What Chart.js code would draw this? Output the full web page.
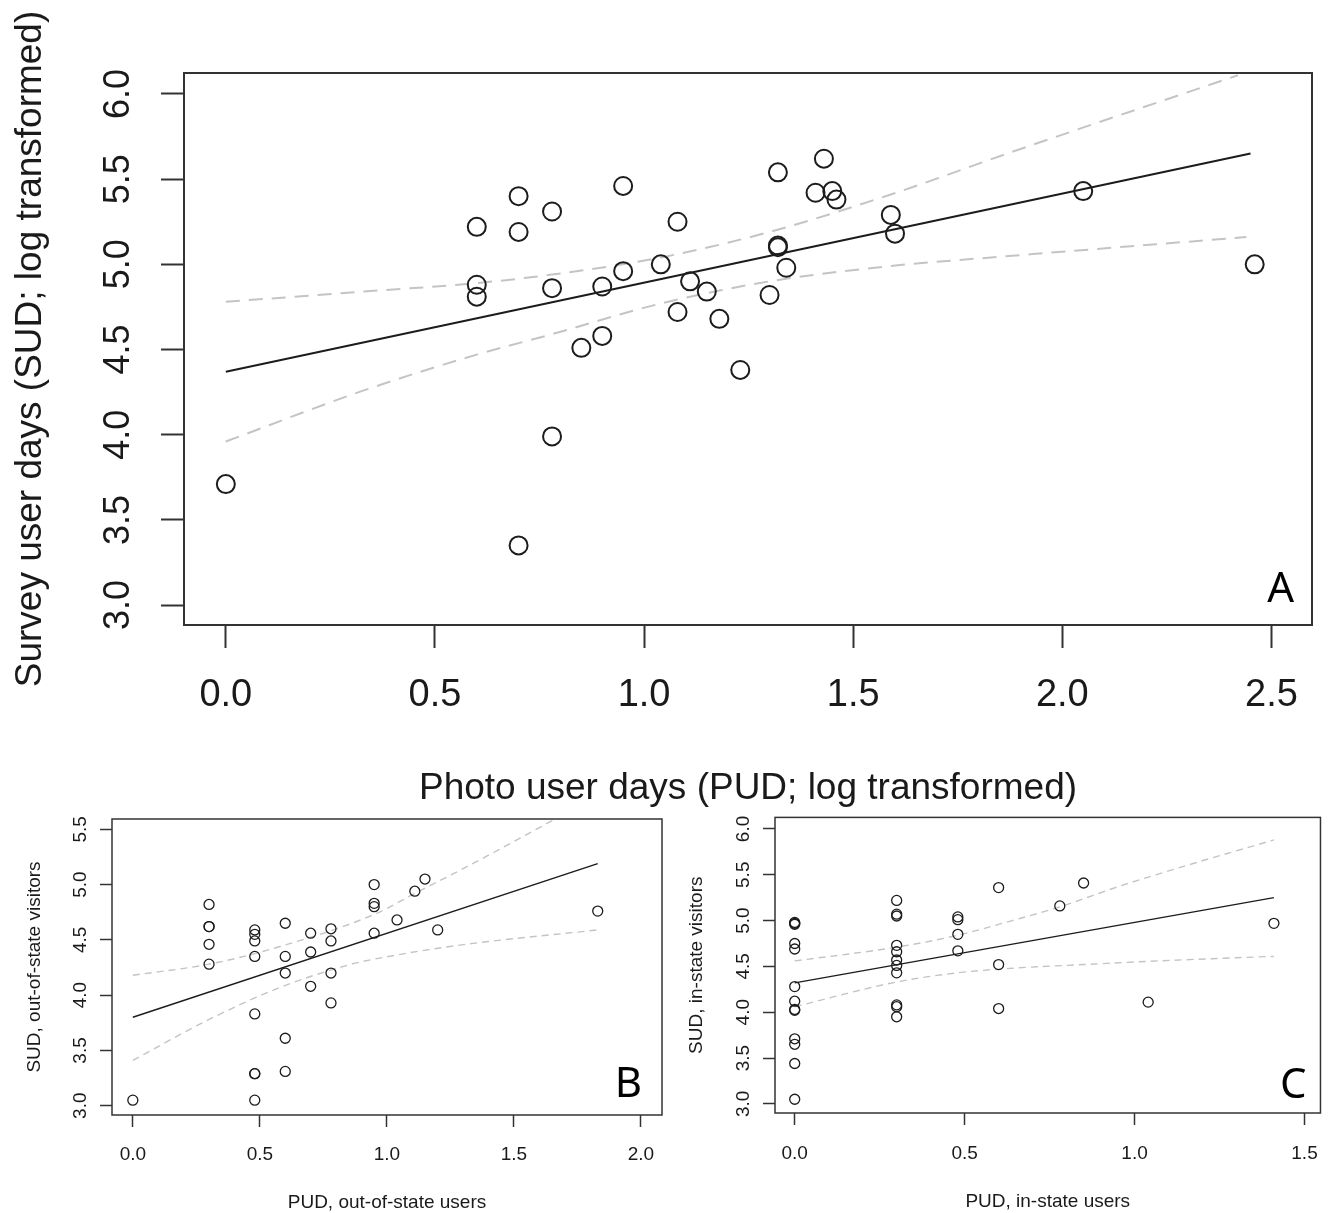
<!DOCTYPE html>
<html>
<head>
<meta charset="utf-8">
<title>SUD vs PUD</title>
<script src="https://cdn.jsdelivr.net/npm/chart.js@4.4.1/dist/chart.umd.min.js"></script>
<style>
  html, body { margin: 0; padding: 0; background: #fff; }
  body { position: relative; width: 1335px; height: 1213px; overflow: hidden; }
  canvas { position: absolute; }
</style>
</head>
<body>
<canvas id="chartA" width="1335" height="820" style="left:0;top:0"></canvas>
<canvas id="chartB" width="680" height="413" style="left:0;top:800px"></canvas>
<canvas id="chartC" width="655" height="413" style="left:680px;top:800px"></canvas>
<script>
// Panel A: all users
var pudA = [0.00, 0.60, 0.60, 0.60, 0.70, 0.70, 0.70, 0.78, 0.78, 0.78, 0.85, 0.90, 0.90, 0.95, 0.95, 1.04, 1.08, 1.08,
            1.11, 1.15, 1.18, 1.23, 1.30, 1.32, 1.32, 1.32, 1.34, 1.41, 1.43, 1.45, 1.46, 1.59, 1.60, 2.05, 2.46];
var sudA = [3.71, 5.22, 4.88, 4.81, 5.40, 5.19, 3.35, 5.31, 4.86, 3.99, 4.51, 4.87, 4.58, 5.46, 4.96, 5.00, 5.25, 4.72,
            4.90, 4.84, 4.68, 4.38, 4.82, 5.54, 5.11, 5.10, 4.98, 5.42, 5.62, 5.43, 5.38, 5.29, 5.18, 5.43, 5.00];
var fitXA = [0.00, 2.45];
var fitYA = [4.37, 5.65];
var upXA = [0.00, 0.33, 0.60, 0.78, 1.04, 1.30, 1.59, 1.88, 2.42];
var upYA = [4.78, 4.84, 4.89, 4.94, 5.04, 5.19, 5.41, 5.66, 6.11];
var loXA = [0.00, 0.33, 0.60, 0.78, 1.04, 1.30, 1.59, 1.88, 2.44];
var loYA = [3.96, 4.26, 4.47, 4.59, 4.77, 4.90, 4.99, 5.05, 5.16];
var xTicksA = [0.0, 0.5, 1.0, 1.5, 2.0, 2.5];
var yTicksA = [3.0, 3.5, 4.0, 4.5, 5.0, 5.5, 6.0];

// Panel B: out-of-state
var pudB = [0.00, 0.30, 0.30, 0.30, 0.30, 0.30, 0.48, 0.48, 0.48, 0.48, 0.48, 0.48, 0.48, 0.48,
            0.60, 0.60, 0.60, 0.60, 0.60, 0.70, 0.70, 0.70, 0.78, 0.78, 0.78, 0.78,
            0.95, 0.95, 0.95, 0.95, 1.04, 1.11, 1.15, 1.20, 1.83];
var sudB = [3.05, 4.82, 4.62, 4.62, 4.46, 4.28, 4.59, 4.55, 4.49, 4.35, 3.83, 3.29, 3.29, 3.05,
            4.65, 4.35, 4.20, 3.61, 3.31, 4.56, 4.39, 4.08, 4.60, 4.49, 4.20, 3.93,
            5.00, 4.83, 4.80, 4.56, 4.68, 4.94, 5.05, 4.59, 4.76];
var fitXB = [0.00, 1.83];
var fitYB = [3.80, 5.19];
var upXB = [0.00, 0.30, 0.58, 0.96, 1.11, 1.28, 1.42, 1.66];
var upYB = [4.18, 4.28, 4.44, 4.74, 4.92, 5.12, 5.29, 5.59];
var loXB = [0.00, 0.30, 0.58, 0.86, 0.96, 1.28, 1.83];
var loYB = [3.41, 3.78, 4.07, 4.28, 4.33, 4.45, 4.59];
var xTicksB = [0.0, 0.5, 1.0, 1.5, 2.0];
var yTicksB = [3.0, 3.5, 4.0, 4.5, 5.0, 5.5];

// Panel C: in-state
var pudC = [0.00, 0.00, 0.00, 0.00, 0.00, 0.00, 0.00, 0.00, 0.00, 0.00, 0.00, 0.00, 0.00,
            0.30, 0.30, 0.30, 0.30, 0.30, 0.30, 0.30, 0.30, 0.30, 0.30, 0.30,
            0.48, 0.48, 0.48, 0.48, 0.60, 0.60, 0.60, 0.78, 0.85, 1.04, 1.41];
var sudC = [4.98, 4.97, 4.96, 4.75, 4.69, 4.28, 4.12, 4.03, 4.02, 3.71, 3.65, 3.44, 3.05,
            5.22, 5.07, 5.05, 4.73, 4.66, 4.57, 4.51, 4.43, 4.08, 4.06, 3.95,
            5.04, 5.01, 4.85, 4.67, 5.36, 4.52, 4.04, 5.16, 5.41, 4.11, 4.97];
var fitXC = [0.00, 1.41];
var fitYC = [4.32, 5.25];
var upXC = [0.00, 0.30, 0.48, 0.64, 0.78, 0.96, 1.17, 1.41];
var upYC = [4.56, 4.71, 4.84, 5.00, 5.15, 5.38, 5.62, 5.88];
var loXC = [0.00, 0.30, 0.48, 0.64, 0.85, 1.07, 1.41];
var loYC = [4.06, 4.33, 4.43, 4.48, 4.52, 4.56, 4.61];
var xTicksC = [0.0, 0.5, 1.0, 1.5];
var yTicksC = [3.0, 3.5, 4.0, 4.5, 5.0, 5.5, 6.0];

var SANS = "'Liberation Sans', Arial, sans-serif";
var NARROW = "'Liberation Sans Narrow', 'Liberation Sans', Arial, sans-serif";

function pairs(xs, ys) {
    return xs.map(function(x, i) { return { x: x, y: ys[i] }; });
}

// box around the plot region + panel letter
var framePlugin = {
    id: 'frame',
    afterDraw: function(chart, args, opts) {
        var a = chart.chartArea;
        var ctx = chart.ctx;
        ctx.save();
        ctx.strokeStyle = '#333';
        ctx.lineWidth = opts.width;
        ctx.strokeRect(a.left, a.top, a.right - a.left, a.bottom - a.top);
        ctx.fillStyle = '#000';
        ctx.font = opts.font;
        ctx.textAlign = 'right';
        ctx.textBaseline = 'alphabetic';
        ctx.fillText(opts.letter, a.right - opts.dx, a.bottom - opts.dy);
        ctx.restore();
    }
};

function makePanel(id, p) {
    var canvas = document.getElementById(id);
    if (!canvas) return;

    var dashed = {
        showLine: true,
        pointRadius: 0,
        borderColor: '#c4c4c4',
        borderWidth: p.lineWidth,
        borderDash: p.dash,
        cubicInterpolationMode: 'monotone',
        fill: false
    };

    new Chart(canvas.getContext('2d'), {
        type: 'scatter',
        data: {
            datasets: [{
                data: pairs(p.px, p.py),
                pointStyle: 'circle',
                pointRadius: p.radius,
                pointBorderWidth: p.ptWidth,
                borderColor: '#1c1c1c',
                backgroundColor: 'rgba(0,0,0,0)',
                pointHoverRadius: p.radius
            }, {
                data: pairs(p.fitX, p.fitY),
                showLine: true,
                pointRadius: 0,
                borderColor: '#1c1c1c',
                borderWidth: p.lineWidth
            },
            Object.assign({ data: pairs(p.upX, p.upY) }, dashed),
            Object.assign({ data: pairs(p.loX, p.loY) }, dashed)]
        },
        options: {
            responsive: false,
            animation: false,
            devicePixelRatio: 1,
            layout: { padding: { top: p.padTop, right: p.padRight, left: 0, bottom: 0 } },
            plugins: {
                legend: { display: false },
                tooltip: { enabled: false },
                frame: { width: p.boxWidth, font: p.letterFont, letter: p.letter, dx: p.letterDx, dy: p.letterDy }
            },
            scales: {
                x: {
                    type: 'linear',
                    min: p.xMin,
                    max: p.xMax,
                    afterBuildTicks: function(s) { s.ticks = p.xTicks.map(function(v) { return { value: v }; }); },
                    afterFit: function(s) { s.height = p.xHeight; },
                    border: { display: false },
                    grid: { drawOnChartArea: false, drawTicks: true, tickLength: p.tickLen, tickColor: '#333', tickWidth: p.boxWidth },
                    ticks: {
                        autoSkip: false,
                        maxRotation: 0,
                        padding: p.xTickPad,
                        color: '#1a1a1a',
                        font: { family: SANS, size: p.xTickSize },
                        callback: function(v) { return Number(v).toFixed(1); }
                    },
                    title: {
                        display: true,
                        text: p.xTitle,
                        color: '#1a1a1a',
                        font: { family: SANS, size: p.xTitleSize, lineHeight: 1 },
                        padding: { top: 0, bottom: p.xTitlePad }
                    }
                },
                y: {
                    type: 'linear',
                    min: p.yMin,
                    max: p.yMax,
                    afterBuildTicks: function(s) { s.ticks = p.yTicks.map(function(v) { return { value: v }; }); },
                    afterFit: function(s) { s.width = p.yWidth; },
                    border: { display: false },
                    grid: { drawOnChartArea: false, drawTicks: true, tickLength: p.tickLen, tickColor: '#333', tickWidth: p.boxWidth },
                    ticks: {
                        autoSkip: false,
                        minRotation: 90,
                        maxRotation: 90,
                        crossAlign: 'center',
                        padding: p.yTickPad,
                        color: '#1a1a1a',
                        font: { family: NARROW, size: p.yTickSize },
                        callback: function(v) { return Number(v).toFixed(1); }
                    },
                    title: {
                        display: true,
                        text: p.yTitle,
                        color: '#1a1a1a',
                        font: { family: SANS, size: p.yTitleSize, lineHeight: 1 },
                        padding: { top: p.yTitlePad, bottom: 0 }
                    }
                }
            }
        },
        plugins: [framePlugin]
    });
}

makePanel('chartA', {
    px: pudA, py: sudA, fitX: fitXA, fitY: fitYA, upX: upXA, upY: upYA, loX: loXA, loY: loYA,
    xTicks: xTicksA, yTicks: yTicksA,
    xMin: -0.100, xMax: 2.597, yMin: 2.883, yMax: 6.123,
    padTop: 73, padRight: 23, yWidth: 184, xHeight: 195,
    tickLen: 23, boxWidth: 2, xTickPad: 25, yTickPad: 17,
    xTickSize: 38, yTickSize: 36, xTitleSize: 37, yTitleSize: 37,
    xTitle: 'Photo user days (PUD; log transformed)',
    yTitle: 'Survey user days (SUD; log transformed)',
    xTitlePad: 13, yTitlePad: 12,
    radius: 9, ptWidth: 2, lineWidth: 2, dash: [14, 9],
    letter: 'A', letterFont: "42px 'Noto Sans', sans-serif", letterDx: 18, letterDy: 23
});

makePanel('chartB', {
    px: pudB, py: sudB, fitX: fitXB, fitY: fitYB, upX: upXB, upY: upYB, loX: loXB, loY: loYB,
    xTicks: xTicksB, yTicks: yTicksB,
    xMin: -0.082, xMax: 2.083, yMin: 2.916, yMax: 5.593,
    padTop: 19, padRight: 18, yWidth: 112, xHeight: 98,
    tickLen: 12, boxWidth: 1.5, xTickPad: 16, yTickPad: 6,
    xTickSize: 19, yTickSize: 19, xTitleSize: 19, yTitleSize: 19,
    xTitle: 'PUD, out-of-state users',
    yTitle: 'SUD, out-of-state visitors',
    xTitlePad: 1, yTitlePad: 25,
    radius: 5, ptWidth: 1.3, lineWidth: 1.4, dash: [7, 5],
    letter: 'B', letterFont: "42px 'Noto Sans', sans-serif", letterDx: 20, letterDy: 18
});

makePanel('chartC', {
    px: pudC, py: sudC, fitX: fitXC, fitY: fitYC, upX: upXC, upY: upYC, loX: loXC, loY: loYC,
    xTicks: xTicksC, yTicks: yTicksC,
    xMin: -0.058, xMax: 1.547, yMin: 2.900, yMax: 6.126,
    padTop: 17, padRight: 10, yWidth: 95, xHeight: 100,
    tickLen: 12, boxWidth: 1.5, xTickPad: 17, yTickPad: 6,
    xTickSize: 19, yTickSize: 19, xTitleSize: 19, yTitleSize: 19,
    xTitle: 'PUD, in-state users',
    yTitle: 'SUD, in-state visitors',
    xTitlePad: 2, yTitlePad: 7,
    radius: 5, ptWidth: 1.3, lineWidth: 1.4, dash: [7, 5],
    letter: 'C', letterFont: "42px 'Noto Sans', sans-serif", letterDx: 14, letterDy: 15
});
</script>
</body>
</html>
